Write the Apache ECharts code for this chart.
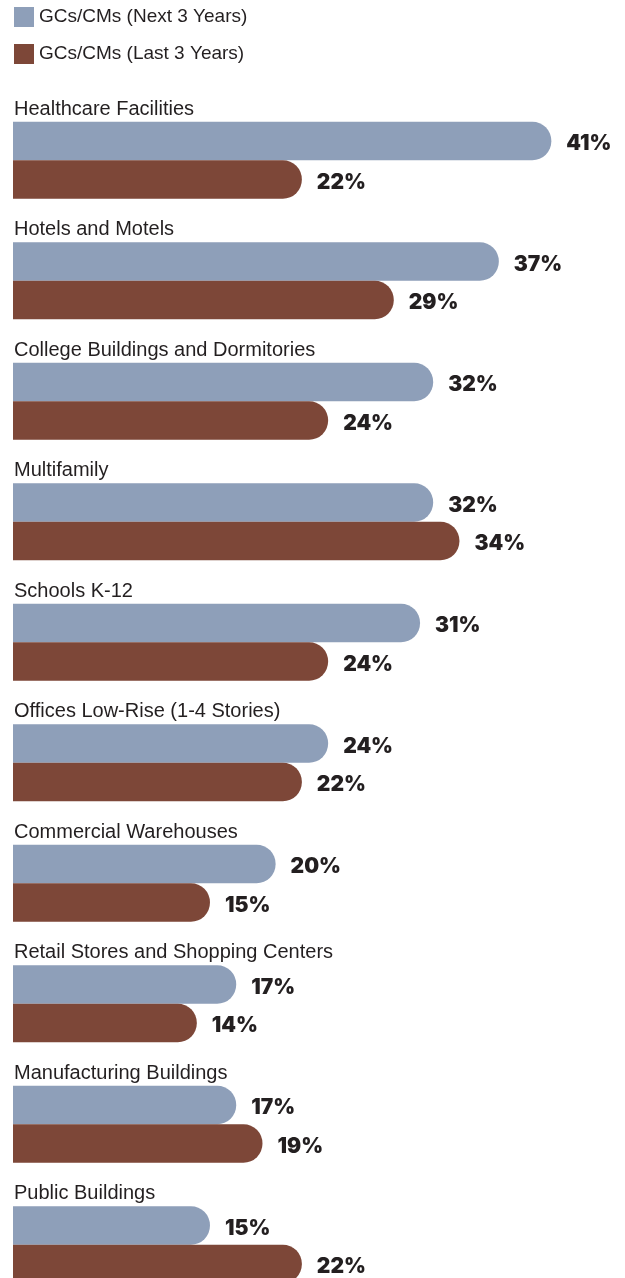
<!DOCTYPE html>
<html>
<head>
<meta charset="utf-8">
<script src="https://cdn.jsdelivr.net/npm/echarts@6/dist/echarts.min.js"></script>
<style>
  html, body { margin: 0; padding: 0; background: #fff; overflow: hidden; }
  /* taller than the window: the last bar is cut off at the bottom edge */
  #chart { width: 625px; height: 1310px; }
</style>
</head>
<body>
<div id="chart"></div>
<script>
const categories = [
  'Healthcare Facilities',
  'Hotels and Motels',
  'College Buildings and Dormitories',
  'Multifamily',
  'Schools K-12',
  'Offices Low-Rise (1-4 Stories)',
  'Commercial Warehouses',
  'Retail Stores and Shopping Centers',
  'Manufacturing Buildings',
  'Public Buildings',
];
const seriesNames = ['GCs/CMs (Next 3 Years)', 'GCs/CMs (Last 3 Years)'];
const nextYears = [41, 37, 32, 32, 31, 24, 20, 17, 17, 15];
const lastYears = [22, 29, 24, 34, 24, 22, 15, 14, 19, 22];

const colors = ['#8e9fb9', '#7d4738'];
const textFont = '"Liberation Sans", sans-serif';

const chart = echarts.init(document.getElementById('chart'));

const barLabel = {
  show: true,
  position: 'right',
  distance: 15,
  offset: [0, 3],
  formatter: '{c}%',
  fontFamily: 'Inter, "DejaVu Sans", sans-serif',
  fontWeight: 900,
  fontSize: 21,
  color: '#231f20',
};

const option = {
  animation: false,
  color: colors,
  legend: {
    orient: 'vertical',
    left: 14,
    top: 7,
    padding: 0,
    itemWidth: 20,
    itemHeight: 20,
    itemGap: 17,
    itemTextGap: 9,
    icon: 'rect',
    textStyle: { fontFamily: textFont, fontSize: 19, color: '#231f20' },
    data: seriesNames,
  },
  grid: { left: 13, right: 8, top: 100, bottom: 5 },
  xAxis: {
    type: 'value',
    min: 0,
    max: 46,
    show: false,
  },
  yAxis: {
    type: 'category',
    inverse: true,
    data: categories,
    axisLine: { show: false },
    axisTick: { show: false },
    axisLabel: {
      inside: true,
      margin: 1,
      align: 'left',
      verticalAlign: 'bottom',
      padding: [0, 0, 41, 0],
      fontFamily: textFont,
      fontSize: 20,
      color: '#231f20',
    },
  },
  series: [
    {
      name: seriesNames[0],
      type: 'bar',
      data: nextYears,
      barWidth: 38.5,
      barGap: '0%',
      itemStyle: { borderRadius: [0, 19, 19, 0] },
      label: barLabel,
    },
    {
      name: seriesNames[1],
      type: 'bar',
      data: lastYears,
      barWidth: 38.5,
      barGap: '0%',
      itemStyle: { borderRadius: [0, 19, 19, 0] },
      label: barLabel,
    },
  ],
};

chart.setOption(option);
</script>
</body>
</html>
